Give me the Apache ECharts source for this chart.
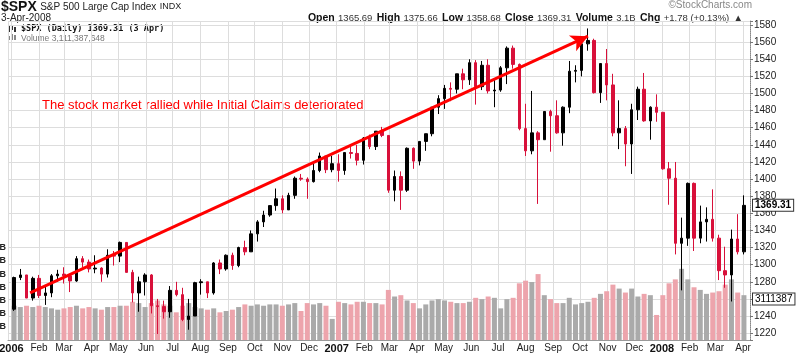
<!DOCTYPE html>
<html>
<head>
<meta charset="utf-8">
<title>$SPX Daily</title>
<script src="https://cdn.jsdelivr.net/npm/echarts@6.0.0/dist/echarts.min.js"></script>
<style>
  html, body { margin: 0; padding: 0; background: #fff; }
  #main { width: 800px; height: 353px; }
</style>
</head>
<body>
<div id="main"></div>
<script>
// weekly bars (mid-week date)
const weekDates = [
  '2006-01-04','2006-01-11','2006-01-18','2006-01-25','2006-02-01','2006-02-08','2006-02-15','2006-02-22','2006-03-01','2006-03-08','2006-03-15','2006-03-22','2006-03-29',
  '2006-04-05','2006-04-12','2006-04-19','2006-04-26','2006-05-03','2006-05-10','2006-05-17','2006-05-24','2006-05-31','2006-06-07','2006-06-14','2006-06-21','2006-06-28',
  '2006-07-05','2006-07-12','2006-07-19','2006-07-26','2006-08-02','2006-08-09','2006-08-16','2006-08-23','2006-08-30','2006-09-06','2006-09-13','2006-09-20','2006-09-27',
  '2006-10-04','2006-10-11','2006-10-18','2006-10-25','2006-11-01','2006-11-08','2006-11-15','2006-11-22','2006-11-29','2006-12-06','2006-12-13','2006-12-20','2006-12-27',
  '2007-01-03','2007-01-10','2007-01-17','2007-01-24','2007-01-31','2007-02-07','2007-02-14','2007-02-21','2007-02-28','2007-03-07','2007-03-14','2007-03-21','2007-03-28',
  '2007-04-04','2007-04-11','2007-04-18','2007-04-25','2007-05-02','2007-05-09','2007-05-16','2007-05-23','2007-05-30','2007-06-06','2007-06-13','2007-06-20','2007-06-27',
  '2007-07-04','2007-07-11','2007-07-18','2007-07-25','2007-08-01','2007-08-08','2007-08-15','2007-08-22','2007-08-29','2007-09-05','2007-09-12','2007-09-19','2007-09-26',
  '2007-10-03','2007-10-10','2007-10-17','2007-10-24','2007-10-31','2007-11-07','2007-11-14','2007-11-21','2007-11-28','2007-12-05','2007-12-12','2007-12-19','2007-12-26',
  '2008-01-02','2008-01-09','2008-01-16','2008-01-23','2008-01-30','2008-02-06','2008-02-13','2008-02-20','2008-02-27','2008-03-05','2008-03-12','2008-03-19','2008-03-26',
  '2008-04-02'
];
const weekOpen = [
  1248,1285,1288,1261,1284,1264,1267,1287,1289,1287,1281,1307,1303,1295,1296,1289,1311,1310,1326,1291,1267,1280,1288,1252,1251,1245,
  1270,1265,1236,1240,1279,1280,1267,1302,1295,1311,1299,1320,1315,1336,1350,1358,1369,1377,1364,1381,1401,1400,1397,1410,1427,1411,
  1418,1410,1431,1430,1422,1448,1438,1456,1451,1387,1403,1387,1436,1421,1444,1453,1484,1494,1506,1505,1523,1516,1536,1508,1533,1503,
  1504,1530,1553,1534,1459,1433,1454,1446,1479,1474,1454,1484,1526,1527,1558,1562,1501,1535,1510,1454,1459,1441,1481,1505,1468,1484,
  1478,1412,1401,1325,1331,1395,1331,1350,1353,1331,1293,1288,1330,1315
];
const weekClose = [
  1285,1288,1261,1284,1264,1267,1287,1289,1287,1281,1307,1303,1295,1296,1289,1311,1310,1326,1291,1267,1280,1288,1252,1251,1245,1270,
  1265,1236,1240,1279,1280,1267,1302,1295,1311,1299,1320,1315,1336,1350,1358,1369,1377,1364,1381,1401,1400,1397,1410,1427,1411,1418,
  1410,1431,1430,1422,1448,1438,1456,1451,1387,1403,1387,1436,1421,1444,1453,1484,1494,1506,1505,1523,1516,1536,1508,1533,1503,1504,
  1530,1553,1534,1459,1433,1454,1446,1479,1474,1454,1484,1526,1527,1558,1562,1501,1535,1510,1454,1459,1441,1481,1505,1468,1484,1478,
  1412,1401,1325,1331,1395,1331,1350,1353,1331,1293,1288,1330,1315,1369.31
];
const weekLow = [
  1246,1282,1261,1258,1261,1253,1262,1280,1278,1268,1280,1297,1291,1290,1280,1285,1299,1303,1291,1256,1245,1264,1243,1219,1237,1238,
  1263,1234,1224,1240,1265,1261,1265,1289,1293,1294,1297,1311,1315,1327,1344,1356,1363,1360,1364,1377,1398,1377,1396,1408,1407,1408,
  1397,1405,1424,1416,1417,1435,1434,1449,1384,1374,1364,1385,1412,1416,1433,1450,1476,1482,1491,1500,1505,1510,1487,1504,1500,1484,
  1502,1511,1529,1457,1427,1429,1371,1446,1432,1453,1439,1477,1513,1520,1550,1500,1489,1492,1450,1435,1415,1406,1469,1467,1446,1467,
  1411,1370,1312,1270,1322,1316,1325,1327,1327,1282,1273,1257,1312,1312
];
const weekHigh = [
  1286,1295,1288,1286,1288,1275,1289,1294,1297,1289,1310,1310,1306,1311,1297,1318,1316,1327,1326,1294,1286,1290,1289,1260,1258,1275,
  1280,1273,1260,1280,1283,1280,1303,1306,1312,1314,1321,1328,1340,1352,1363,1369,1389,1381,1384,1403,1406,1402,1418,1431,1427,1427,
  1429,1431,1441,1440,1449,1452,1456,1461,1451,1410,1409,1437,1437,1444,1453,1484,1498,1510,1513,1523,1529,1540,1539,1538,1540,1517,
  1532,1555,1556,1535,1488,1503,1456,1479,1481,1492,1485,1538,1533,1561,1576,1564,1535,1552,1523,1492,1462,1488,1508,1524,1485,1499,
  1478,1420,1420,1355,1396,1396,1369,1367,1388,1335,1321,1341,1359,1381
];
// average daily volume, billions of shares
const weekVolume = [
  2.6,2.5,2.6,2.5,2.6,2.5,2.4,2.3,2.4,2.5,2.6,2.4,2.5,2.4,2.3,2.5,2.5,2.6,2.6,2.9,2.8,2.5,2.8,3.0,2.7,2.6,
  2.1,2.6,2.8,2.5,2.4,2.3,2.4,2.1,2.2,2.3,2.5,2.7,2.6,2.7,2.6,2.7,2.7,2.6,2.7,2.8,2.2,2.8,2.7,2.8,2.6,1.6,
  2.9,2.8,2.7,2.9,2.9,2.8,2.8,2.7,3.8,3.3,3.4,3.0,2.8,2.4,2.7,3.0,3.1,3.0,2.9,2.8,2.8,2.9,3.2,3.1,3.3,3.2,
  2.4,3.1,3.2,4.3,4.5,4.4,5.0,3.4,3.1,2.8,2.8,3.2,2.7,2.8,2.9,3.2,3.5,3.7,4.2,3.9,3.6,3.9,3.3,3.5,3.4,1.9,
  3.4,4.3,4.6,5.4,4.6,4.0,3.8,3.5,3.6,3.7,4.2,4.6,3.6,3.4
];
const volumeTicks = [1, 2, 3, 4, 5, 6, 7];
const monthNames = ['Jan','Feb','Mar','Apr','May','Jun','Jul','Aug','Sep','Oct','Nov','Dec'];
const lastClose = 1369.31;
const lastVolume = 3.111387648;
const arrowStart = ['2006-01-22', 1267];
const arrowEnd = ['2007-10-10', 1567];

const RED = '#d8103a';
const chart = echarts.init(document.getElementById('main'));

const candles = weekDates.map((d, i) => [d, weekOpen[i], weekClose[i], weekLow[i], weekHigh[i]]);
const volumes = weekDates.map((d, i) => ({
  value: [d, weekVolume[i]],
  itemStyle: { color: weekClose[i] >= weekOpen[i] ? '#aaaaaa' : '#eda4ac' }
}));

const DAY = 86400000;

const option = {
  animation: false,
  textStyle: { fontFamily: 'Liberation Sans, Arial, sans-serif' },
  grid: { left: 8, right: 50, top: 21, bottom: 13, outerBoundsMode: 'none', containLabel: false },
  xAxis: {
    type: 'time',
    min: new Date(2005, 11, 31).getTime(),
    max: new Date(2008, 3, 6).getTime(),
    minInterval: 28 * DAY,
    maxInterval: 31 * DAY,
    axisLine: { lineStyle: { color: '#999' } },
    axisTick: { show: false },
    splitLine: { show: true, lineStyle: { color: '#dddddd', width: 1 } },
    axisLabel: {
      margin: 3,
      fontSize: 10,
      color: '#222',
      showMinLabel: false,
      showMaxLabel: false,
      formatter: function (value) {
        const d = new Date(value);
        if (d.getDate() !== 1) return '';
        if (d.getMonth() === 0) return '{y|' + d.getFullYear() + '}';
        return monthNames[d.getMonth()];
      },
      rich: { y: { fontWeight: 'bold', fontSize: 11, color: '#111' } }
    }
  },
  yAxis: [
    {
      type: 'value',
      position: 'right',
      min: 1212,
      max: 1584.7,
      splitNumber: 18,
      minInterval: 20,
      maxInterval: 20,
      axisLine: { show: true, lineStyle: { color: '#888', type: 'dotted' } },
      axisTick: { show: true, length: 3, lineStyle: { color: '#777' } },
      axisLabel: {
        margin: 4, fontSize: 10, color: '#222',
        formatter: v => (Math.abs(v % 20) < 0.01 ? String(v) : '')
      },
      splitLine: { lineStyle: { color: '#dddddd' } }
    },
    {
      type: 'value',
      position: 'left',
      min: 0,
      max: 24.2,
      interval: 1,
      axisLine: { show: false },
      axisTick: { show: false },
      splitLine: { show: false },
      axisLabel: {
        margin: 2, fontSize: 9, fontWeight: 'bold', color: '#222',
        formatter: v => (volumeTicks.indexOf(v) >= 0 ? v.toFixed(1) + 'B' : '')
      }
    }
  ],
  series: [
    {
      name: 'Volume',
      type: 'bar',
      yAxisIndex: 1,
      barWidth: 5,
      z: 1,
      data: volumes,
      markLine: {
        silent: true,
        symbol: 'none',
        lineStyle: { color: 'rgba(0,0,0,0)', width: 0 },
        label: {
          position: 'end', distance: 3, formatter: '3111387',
          fontSize: 10, color: '#000', backgroundColor: '#fff',
          borderColor: '#333', borderWidth: 1, padding: [1, 2, 0, 2]
        },
        data: [{ yAxis: lastVolume }]
      }
    },
    {
      name: '$SPX',
      type: 'candlestick',
      yAxisIndex: 0,
      barWidth: 3,
      z: 3,
      data: candles,
      itemStyle: { color: '#000', color0: RED, borderColor: '#000', borderColor0: RED, borderWidth: 1 },
      markLine: {
        silent: true,
        symbol: ['none', 'arrow'],
        symbolSize: [13, 17],
        lineStyle: { color: '#ff0000', width: 3, type: 'solid' },
        label: { show: false },
        data: [
          [{ coord: arrowStart }, { coord: arrowEnd }],
          {
            yAxis: lastClose, symbol: 'none',
            lineStyle: { color: 'rgba(0,0,0,0)', width: 0 },
            label: {
              show: true, position: 'end', distance: 3, formatter: '1369.31',
              fontSize: 10, fontWeight: 'bold', color: '#000', backgroundColor: '#fff',
              borderColor: '#333', borderWidth: 1, padding: [1, 2, 0, 2]
            }
          }
        ]
      }
    }
  ],
  graphic: [
    {
      type: 'text', left: 1, top: 0,
      style: {
        text: '{t|$SPX} {n|S&P 500 Large Cap Index} {s|INDX}',
        rich: {
          t: { fontSize: 14, fontWeight: 'bold', fill: '#111', fontFamily: 'Liberation Sans' },
          n: { fontSize: 10, fill: '#222', fontFamily: 'Liberation Sans' },
          s: { fontSize: 9, fill: '#222', fontFamily: 'Liberation Sans' }
        }
      }
    },
    {
      type: 'text', left: 1, top: 13,
      style: { text: '3-Apr-2008', fontSize: 10, fill: '#222', fontFamily: 'Liberation Sans' }
    },
    {
      type: 'text', right: 57, top: 12,
      style: {
        text: '{b|Open} {n|1365.69} {b|High} {n|1375.66} {b|Low} {n|1358.68} {b|Close} {n|1369.31} {b|Volume} {n|3.1B} {b|Chg} {n|+1.78 (+0.13%)} {n|\u25B2}',
        rich: {
          b: { fontSize: 10.5, fontWeight: 'bold', fill: '#111', fontFamily: 'Liberation Sans' },
          n: { fontSize: 9.5, fill: '#333', fontFamily: 'Liberation Sans', padding: [0, 1, 0, 0] }
        }
      }
    },
    {
      type: 'text', right: 48, top: 0,
      style: { text: '\u00A9StockCharts.com', fontSize: 10, fill: '#888', fontFamily: 'Liberation Sans' }
    },
    {
      type: 'group', left: 8, top: 25,
      children: [
        { type: 'rect', shape: { x: 0, y: 1, width: 2, height: 6 }, style: { fill: '#333' } },
        { type: 'rect', shape: { x: 3, y: 0, width: 2, height: 5 }, style: { fill: '#333' } },
        { type: 'rect', shape: { x: 6, y: 2, width: 2, height: 5 }, style: { fill: '#333' } }
      ]
    },
    {
      type: 'text', left: 21, top: 24,
      style: { text: '$SPX (Daily) 1369.31 (3 Apr)', fontSize: 8.5, fontWeight: 'bold', fill: '#111', fontFamily: 'DejaVu Sans Mono' }
    },
    {
      type: 'group', left: 8, top: 34,
      children: [
        { type: 'rect', shape: { x: 0, y: 3, width: 2, height: 4 }, style: { fill: '#888' } },
        { type: 'rect', shape: { x: 3, y: 1, width: 2, height: 6 }, style: { fill: '#888' } },
        { type: 'rect', shape: { x: 6, y: 2, width: 2, height: 5 }, style: { fill: '#888' } }
      ]
    },
    {
      type: 'text', left: 21, top: 34,
      style: { text: 'Volume 3,111,387,648', fontSize: 8.5, fill: '#777', fontFamily: 'Liberation Sans' }
    },
    {
      type: 'text', left: 42, top: 99,
      style: { text: 'The stock market rallied while Initial Claims deteriorated', fontSize: 13, fill: '#ff0000', fontFamily: 'Liberation Sans' }
    }
  ]
};

chart.setOption(option);
</script>
</body>
</html>
